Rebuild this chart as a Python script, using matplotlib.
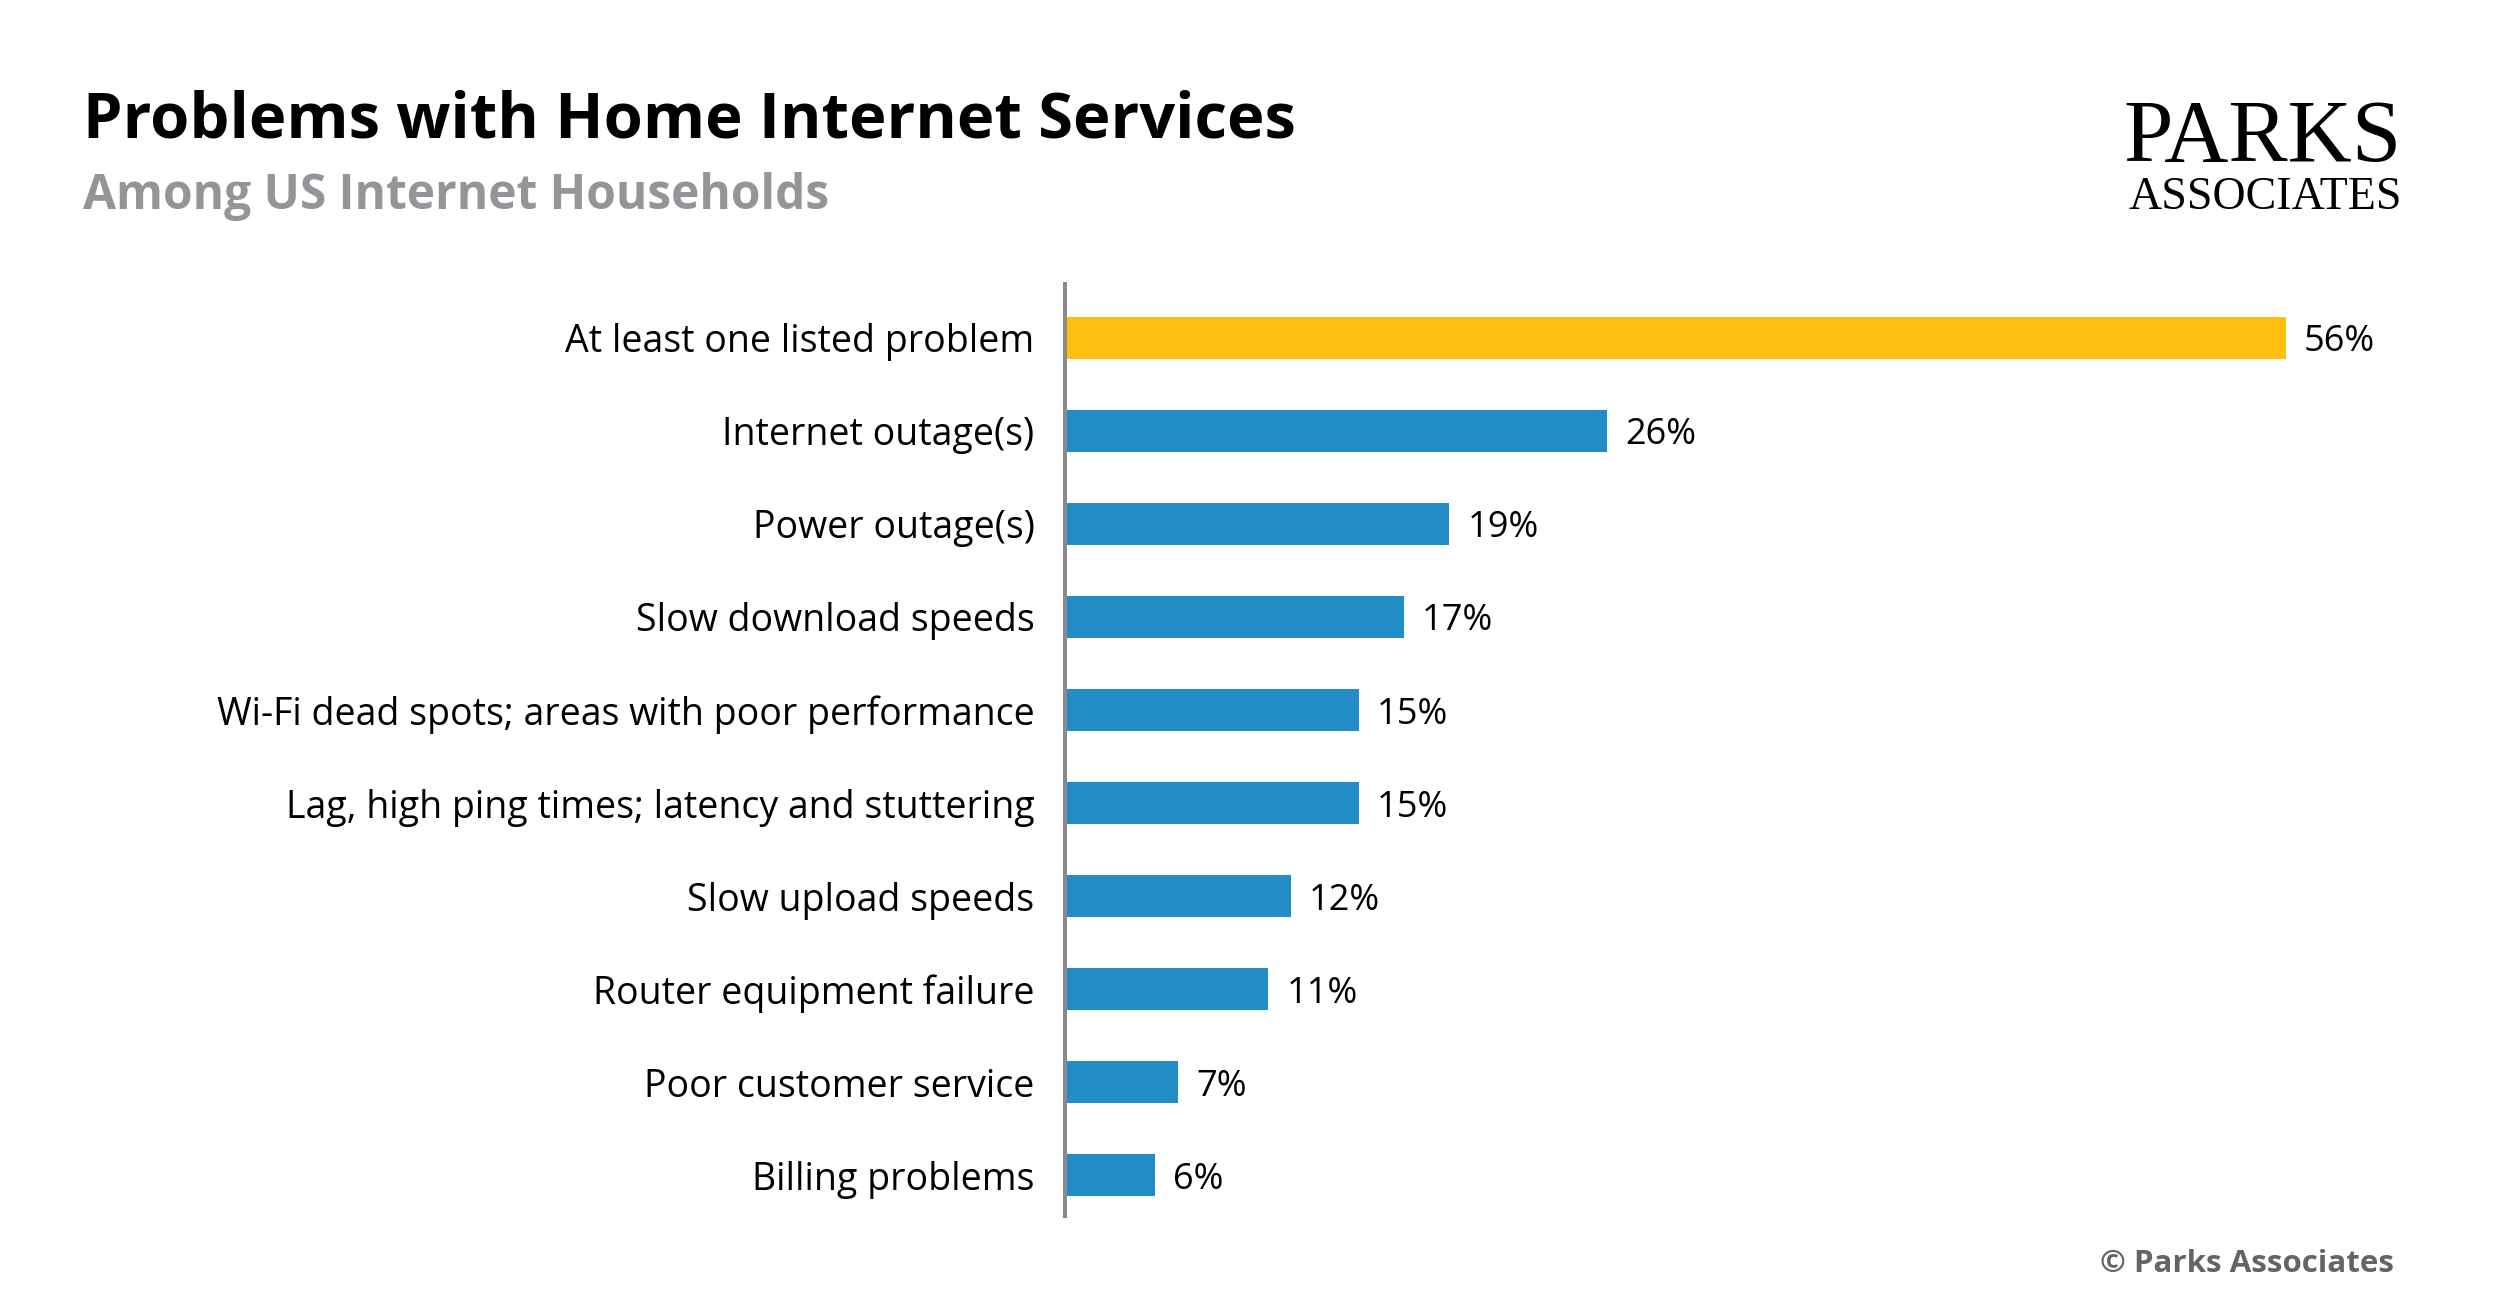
import matplotlib.pyplot as plt

categories = [
    "At least one listed problem",
    "Internet outage(s)",
    "Power outage(s)",
    "Slow download speeds",
    "Wi-Fi dead spots; areas with poor performance",
    "Lag, high ping times; latency and stuttering",
    "Slow upload speeds",
    "Router equipment failure",
    "Poor customer service",
    "Billing problems",
]
values = [56, 26, 19, 17, 15, 15, 12, 11, 7, 6]

YELLOW = "#FDC010"
BLUE = "#228CC6"
W, H = 2500, 1309
FONT = "Open Sans"

fig = plt.figure(figsize=(25, 13.09), dpi=100)
fig.patch.set_facecolor("white")

# axes placed in pixel terms
ax = fig.add_axes([1065 / W, 1 - 1216 / H, (2376 - 1065) / W, (1216 - 284) / H])
colors = [YELLOW] + [BLUE] * (len(values) - 1)
ypos = list(range(len(values)))
ax.barh(ypos, values, height=0.46, color=colors, edgecolor="none")
ax.set_xlim(2, 60)
ax.set_ylim(9.44, -0.58)

for s in ["top", "right", "bottom"]:
    ax.spines[s].set_visible(False)
ax.spines["left"].set_color("#8a8a8a")
ax.spines["left"].set_linewidth(2.9)
ax.set_xticks([])
ax.set_yticks(ypos)
ax.set_yticklabels(categories, fontfamily=FONT, fontsize=27, color="black",
                   va="center_baseline")
ax.tick_params(axis="y", length=0, pad=22)

for y, v in zip(ypos, values):
    ax.annotate(f"{v}%", (v, y), xytext=(13, 0), textcoords="offset points",
                va="center_baseline", ha="left", fontfamily=FONT, fontsize=26,
                color="black")

# titles
fig.text(83 / W, 1 - 137 / H, "Problems with Home Internet Services",
         fontfamily=FONT, fontweight="bold", fontsize=45.5, va="baseline", ha="left")
fig.text(83 / W, 1 - 209 / H, "Among US Internet Households",
         fontfamily=FONT, fontweight="bold", fontsize=34.5, color="#939598",
         va="baseline", ha="left")

# logo
fig.text(2402 / W, 1 - 161 / H, "PARKS", fontfamily="Liberation Serif",
         fontsize=64, ha="right", va="baseline", color="black")
fig.text(2402 / W, 1 - 209 / H, "ASSOCIATES", fontfamily="Liberation Serif",
         fontsize=33, ha="right", va="baseline", color="black")

# footer
fig.text(2394 / W, 1 - 1264 / H, "\u00a9 Parks Associates", fontfamily=FONT,
         fontweight="bold", fontsize=22.5, color="#636466", ha="right", va="center")

plt.savefig("out.png", dpi=100, facecolor="white")
